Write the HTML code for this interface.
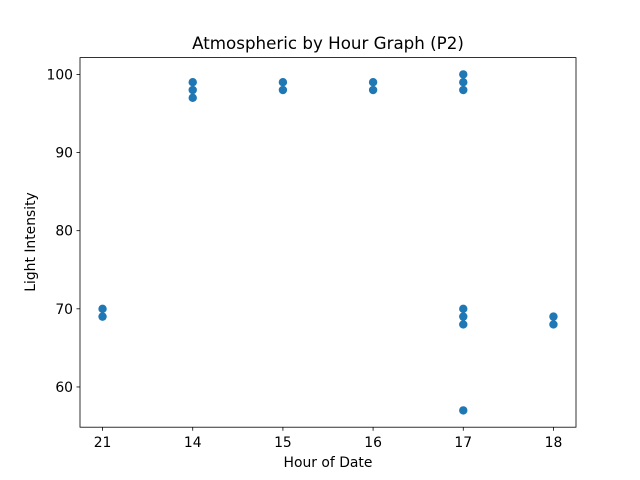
<!DOCTYPE html>
<html><head><meta charset="utf-8"><style>
body{margin:0;background:#fff}
svg{display:block;font-family:"DejaVu Sans","Liberation Sans",sans-serif}
</style></head><body>
<svg id="chart" width="640" height="480">
<rect width="640" height="480" fill="#fff"/>
<text x="328" y="49" font-size="16.7" text-anchor="middle">Atmospheric by Hour Graph (P2)</text>
<text x="328" y="467" font-size="13.9" text-anchor="middle">Hour of Date</text>
<text transform="translate(35,242) rotate(-90)" font-size="13.9" text-anchor="middle">Light Intensity</text>
<g id="points"></g>
<g id="axes"></g>
</svg>
<script>
const categories = ["21","14","15","16","17","18"];
const pointCats = ["21","21","14","14","14","15","15","16","16","17","17","17","17","17","17","17","18","18"];
const pointVals = [70,69,99,98,97,99,98,99,98,100,99,98,70,69,68,57,69,68];
const yTicks = [60,70,80,90,100];

const L=80,R=576,T=57.6,B=427.2;
const yMin=54.85,yMax=102.15;
const ns="http://www.w3.org/2000/svg";
function xs(c){const i=categories.indexOf(c);const lo=-0.25,hi=categories.length-1+0.25;return L+(i-lo)/(hi-lo)*(R-L);}
function ys(v){return B-(v-yMin)/(yMax-yMin)*(B-T);}
function mk(tag,attrs,parent){const e=document.createElementNS(ns,tag);for(const k in attrs)e.setAttribute(k,attrs[k]);parent.appendChild(e);return e;}

const pg=document.getElementById('points');
pointVals.forEach((v,i)=>{
  const c=mk('circle',{cx:xs(pointCats[i]),cy:ys(v),r:4.2,fill:'#1f77b4'},pg);
  
  
});

const ag=document.getElementById('axes');
const fr=mk('rect',{x:L,y:T,width:R-L,height:B-T,fill:'none',stroke:'#000','stroke-width':0.8},ag);


categories.forEach(c=>{
  const x=xs(c);
  mk('line',{x1:x,x2:x,y1:B,y2:B+3.5,stroke:'#000','stroke-width':0.8},ag);
  const t=mk('text',{x:x,y:B+20,'font-size':13.9,'text-anchor':'middle'},ag);
  t.textContent=c;
  
  
});
yTicks.forEach(v=>{
  const y=ys(v);
  mk('line',{x1:L-3.5,x2:L,y1:y,y2:y,stroke:'#000','stroke-width':0.8},ag);
  const t=mk('text',{x:L-7,y:y+5,'font-size':13.9,'text-anchor':'end'},ag);
  t.textContent=v;
  
  
});
</script>
</body></html>
